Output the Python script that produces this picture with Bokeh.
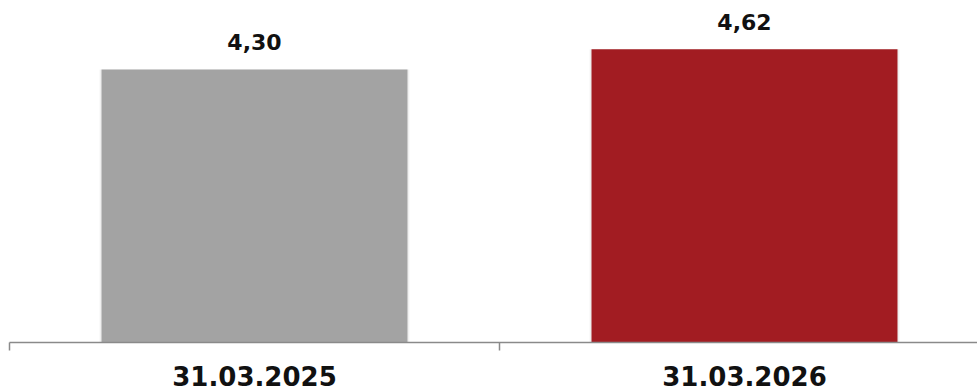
from bokeh.plotting import figure
from bokeh.models import ColumnDataSource, Range1d, FixedTicker
from bokeh.core.properties import value
from bokeh.embed import file_html
from bokeh.resources import INLINE

# Data
categories = ["31.03.2025", "31.03.2026"]
values = [4.30, 4.62]
value_labels = ["4,30", "4,62"]
colors = ["#A3A3A3", "#A21C22"]

positions = [i + 0.5 for i in range(len(categories))]

source = ColumnDataSource(dict(
    x=positions,
    top=values,
    label=value_labels,
    color=colors,
))

p = figure(
    width=977, height=390,
    output_backend="svg", toolbar_location=None,
    x_range=Range1d(0, 968 / 490),
    y_range=Range1d(0, 342 / 63.5),
    min_border_left=9, min_border_right=0,
    min_border_top=0, min_border_bottom=48,
    background_fill_color="white", border_fill_color="white",
)
p.outline_line_color = None
p.xgrid.visible = False
p.ygrid.visible = False
p.yaxis.visible = False

# faint shadow behind each bar
p.vbar(x="x", top="top", bottom=0, width=0.632, source=source,
       fill_color="#000000", fill_alpha=0.06, line_color=None)

p.vbar(x="x", top="top", bottom=0, width=0.6245, source=source,
       fill_color="color", line_color=None)

p.text(x="x", y="top", text="label", source=source,
       text_align="center", text_baseline="alphabetic", y_offset=-27,
       text_font=value("DejaVu Sans"), text_font_style="bold",
       text_font_size="22px", text_color="#111111")

# category axis: labels centred on bars, separator ticks between categories
xa = p.xaxis[0]
xa.ticker = FixedTicker(ticks=positions, minor_ticks=list(range(len(categories) + 1)))
xa.major_label_overrides = {pos: cat for pos, cat in zip(positions, categories)}
xa.major_tick_in = 0
xa.major_tick_out = 0
xa.minor_tick_in = 0
xa.minor_tick_out = 8
xa.minor_tick_line_color = "#8a8a8a"
xa.minor_tick_line_width = 1.5
xa.axis_line_color = "#8a8a8a"
xa.axis_line_width = 1.5
xa.major_label_standoff = 15
xa.major_label_text_font = "DejaVu Sans"
xa.major_label_text_font_style = "bold"
xa.major_label_text_font_size = "26px"
xa.major_label_text_color = "#111111"

open("out.html", "w").write(file_html(p, INLINE))
